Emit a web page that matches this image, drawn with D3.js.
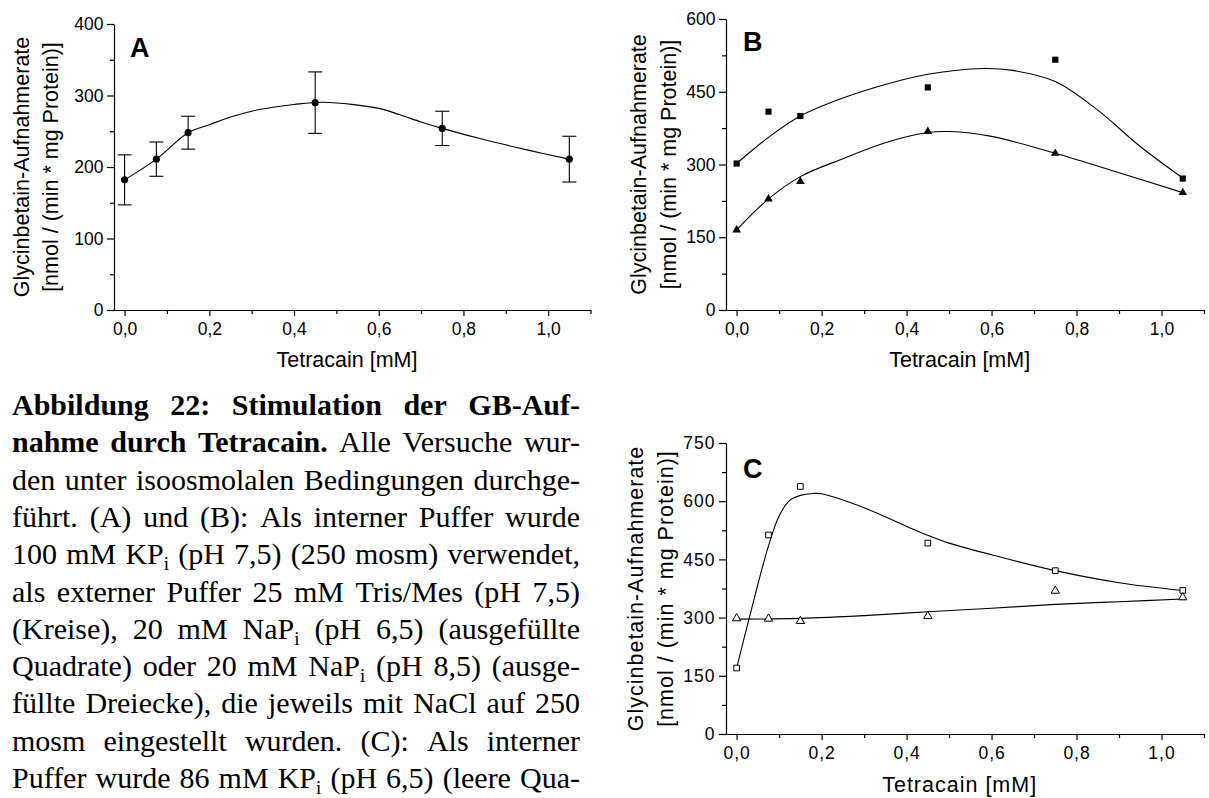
<!DOCTYPE html>
<html>
<head>
<meta charset="utf-8">
<script src="https://cdn.jsdelivr.net/npm/d3@7"></script>
<style>
  body { margin: 0; background: #fff; }
  svg { display: block; }
</style>
</head>
<body>
<svg id="fig" width="1209" height="798"></svg>
<script>
// Tetracain concentrations (mM) used in all experiments
const tetracain = [0, 0.075, 0.15, 0.45, 0.75, 1.05];

// (A) external buffer Tris/Mes pH 7,5: means and standard deviations
const uptakeA = [182, 211, 248, 290, 254, 211];
const errorA = [35, 24, 23, 43, 24, 32];
// fitted curve A
const fitA_x = [0, 0.075, 0.15, 0.2, 0.25, 0.3, 0.35, 0.4, 0.47, 0.6, 0.65, 0.7, 0.75, 0.85, 0.95, 1.05];
const fitA_y = [182, 211, 248, 259, 270, 278, 283.5, 287.5, 290.5, 282, 273, 263, 254, 238, 224, 211];

// (B) filled squares: NaPi pH 6,5 ; filled triangles: NaPi pH 8,5
const uptakeB_squares = [302, 409, 400, 459, 516, 271];
const uptakeB_triangles = [165, 229, 265, 368, 323, 242];
const fitB_sq_x = [0, 0.075, 0.15, 0.25, 0.35, 0.45, 0.58, 0.65, 0.75, 0.85, 0.95, 1.05];
const fitB_sq_y = [302, 356, 400, 437, 465, 486, 498, 494, 471, 412, 337, 272];
const fitB_tri_x = [0, 0.075, 0.15, 0.25, 0.35, 0.45, 0.5, 0.6, 0.75, 0.9, 1.05];
const fitB_tri_y = [165, 229, 275, 312, 345, 366, 368, 358, 323, 283, 242];

// (C) internal buffer KPi pH 6,5: open squares and open triangles
const uptakeC_squares = [170, 513, 638, 492, 421, 370];
const uptakeC_triangles = [298, 297, 291, 304, 369, 352];
const fitC_sq_x = [0, 0.03, 0.075, 0.1, 0.125, 0.15, 0.18, 0.2, 0.3, 0.4, 0.45, 0.5, 0.6, 0.75, 0.9, 1.05];
const fitC_sq_y = [170, 300, 485, 562, 602, 615, 620, 619, 583, 535, 512, 492, 462, 421, 390, 370];
const fitC_tri_x = [0, 0.15, 0.3, 0.45, 0.6, 0.75, 0.9, 1.05];
const fitC_tri_y = [296, 298, 305, 315, 324, 334, 341, 348];

// axis ticks
const xTicks = [0, 0.2, 0.4, 0.6, 0.8, 1.0];
const xTickLabels = ["0,0", "0,2", "0,4", "0,6", "0,8", "1,0"];
const xMinorTicks = [0.1, 0.3, 0.5, 0.7, 0.9, 1.1];
const yTicksA = [0, 100, 200, 300, 400];
const yMinorA = [50, 150, 250, 350];
const yTicksBC = [0, 150, 300, 450, 600];
const yMinorB = [75, 225, 375, 525];
const yTicksC = [0, 150, 300, 450, 600, 750];
const yMinorC = [75, 225, 375, 525, 675];

const xLabel = "Tetracain [mM]";
const yLabel1 = "Glycinbetain-Aufnahmerate";
const yLabel2 = "[nmol / (min * mg Protein)]";

const svg = d3.select("#fig");
const SANS = "'Liberation Sans', Arial, sans-serif";

function zip(xs, ys) { return xs.map((v, i) => [v, ys[i]]); }

function drawPanel(p) {
  const g = svg.append("g").attr("font-family", SANS);
  const x = d3.scaleLinear().domain([-0.025, 1.1]).range([p.left, p.right]);
  const y = d3.scaleLinear().domain([0, p.ymax]).range([p.bottom, p.top]);
  const ls = p.spacing || 0;

  // minor ticks
  const xm = g.append("g").attr("transform", `translate(0,${p.bottom})`)
    .call(d3.axisBottom(x).tickValues(xMinorTicks).tickFormat("").tickSize(4).tickSizeOuter(0));
  xm.select(".domain").remove();
  const ym = g.append("g").attr("transform", `translate(${p.left},0)`)
    .call(d3.axisLeft(y).tickValues(p.yMinor).tickFormat("").tickSize(4).tickSizeOuter(0));
  ym.select(".domain").remove();

  // major axes
  g.append("g").attr("transform", `translate(0,${p.bottom})`)
    .call(d3.axisBottom(x).tickValues(xTicks).tickFormat((d, i) => xTickLabels[i])
      .tickSize(6).tickPadding(7).tickSizeOuter(0));
  g.append("g").attr("transform", `translate(${p.left},0)`)
    .call(d3.axisLeft(y).tickValues(p.yTicks).tickFormat(d => String(d))
      .tickSize(7).tickPadding(3.5).tickSizeOuter(0));

  g.selectAll(".tick text").attr("font-size", 17.5).attr("font-family", SANS)
    .attr("fill", "#000").attr("letter-spacing", ls);
  g.selectAll(".domain, .tick line").attr("stroke", "#000").attr("stroke-width", 1.2);

  // axis titles
  g.append("text")
    .attr("x", x(0.525)).attr("y", p.xLabelY)
    .attr("text-anchor", "middle").attr("font-size", 21.5).attr("letter-spacing", ls)
    .text(xLabel);
  const cy = (p.top + p.bottom) / 2;
  [[yLabel1, p.yLabelX1], [yLabel2, p.yLabelX2]].forEach(([t, bx]) => {
    g.append("text")
      .attr("transform", `translate(${bx},${cy}) rotate(-90)`)
      .attr("text-anchor", "middle").attr("font-size", 21.5).attr("letter-spacing", ls)
      .text(t);
  });

  // panel letter
  g.append("text").attr("x", p.letterX).attr("y", p.letterY)
    .attr("font-size", 27).attr("font-weight", "bold").text(p.letter);

  const line = d3.line().x(d => x(d[0])).y(d => y(d[1])).curve(d3.curveCatmullRom.alpha(0.5));

  p.fits.forEach(f => {
    g.append("path").attr("d", line(zip(f[0], f[1])))
      .attr("fill", "none").attr("stroke", "#000").attr("stroke-width", 1.1);
  });

  if (p.errors) {
    const eb = g.append("g").attr("stroke", "#000").attr("stroke-width", 1.1);
    tetracain.forEach((c, i) => {
      const m = p.series[0].values[i], e = p.errors[i];
      eb.append("line").attr("x1", x(c)).attr("x2", x(c)).attr("y1", y(m - e)).attr("y2", y(m + e));
      [m - e, m + e].forEach(v => {
        eb.append("line").attr("x1", x(c) - 7).attr("x2", x(c) + 7).attr("y1", y(v)).attr("y2", y(v));
      });
    });
  }

  p.series.forEach(s => {
    const sym = d3.symbol().type(s.type).size(s.size);
    g.append("g").selectAll("path").data(zip(tetracain, s.values)).join("path")
      .attr("transform", d => `translate(${x(d[0])},${y(d[1])})`)
      .attr("d", sym)
      .attr("fill", s.open ? "#fff" : "#000")
      .attr("stroke", "#000").attr("stroke-width", s.open ? 1 : 0);
  });
}

drawPanel({
  left: 114, right: 590.5, top: 24, bottom: 310, ymax: 400,
  yTicks: yTicksA, yMinor: yMinorA,
  xLabelY: 367, yLabelX1: 29, yLabelX2: 58,
  letter: "A", letterX: 130, letterY: 56.5,
  fits: [[fitA_x, fitA_y]],
  errors: errorA,
  series: [{ values: uptakeA, type: d3.symbolCircle, size: 40 }]
});

drawPanel({
  left: 726, right: 1204, top: 19, bottom: 310, ymax: 600,
  yTicks: yTicksBC, yMinor: yMinorB,
  xLabelY: 367, yLabelX1: 646, yLabelX2: 676,
  letter: "B", letterX: 743, letterY: 50.5,
  fits: [[fitB_sq_x, fitB_sq_y], [fitB_tri_x, fitB_tri_y]],
  series: [
    { values: uptakeB_squares, type: d3.symbolSquare, size: 38 },
    { values: uptakeB_triangles, type: d3.symbolTriangle, size: 32 }
  ]
});

drawPanel({
  left: 726, right: 1204, top: 443, bottom: 734, ymax: 750,
  yTicks: yTicksC, yMinor: yMinorC, spacing: 1,
  xLabelY: 792, yLabelX1: 642.5, yLabelX2: 672.5,
  letter: "C", letterX: 743, letterY: 478,
  fits: [[fitC_sq_x, fitC_sq_y], [fitC_tri_x, fitC_tri_y]],
  series: [
    { values: uptakeC_squares, type: d3.symbolSquare, size: 32, open: true },
    { values: uptakeC_triangles, type: d3.symbolTriangle, size: 30, open: true }
  ]
});

// Figure caption, justified block set in a serif face
const captionLines = [
  [["Abbildung 22: Stimulation der GB-Auf-", true]],
  [["nahme durch Tetracain.", true], ["Alle Versuche wur-", false]],
  [["den unter isoosmolalen Bedingungen durchge-", false]],
  [["führt. (A) und (B): Als interner Puffer wurde", false]],
  [["100 mM KP_i (pH 7,5) (250 mosm) verwendet,", false]],
  [["als externer Puffer 25 mM Tris/Mes (pH 7,5)", false]],
  [["(Kreise), 20 mM NaP_i (pH 6,5) (ausgefüllte", false]],
  [["Quadrate) oder 20 mM NaP_i (pH 8,5) (ausge-", false]],
  [["füllte Dreiecke), die jeweils mit NaCl auf 250", false]],
  [["mosm eingestellt wurden. (C): Als interner", false]],
  [["Puffer wurde 86 mM KP_i (pH 6,5) (leere Qua-", false]]
];

const cap = svg.append("g")
  .attr("font-family", "'Liberation Serif', 'Times New Roman', serif")
  .attr("font-size", 30).attr("fill", "#000");
const capLeft = 12, capRight = 580, capTop = 415, capStep = 37.3;

captionLines.forEach((segs, li) => {
  const words = [];
  segs.forEach(([t, b]) => t.split(" ").forEach(w => words.push({ w, b })));
  const by = capTop + li * capStep;
  const nodes = words.map(({ w, b }) => {
    const t = cap.append("text").attr("y", by).attr("font-weight", b ? "bold" : "normal");
    const parts = w.split("_i");
    t.append("tspan").text(parts[0]);
    if (parts.length > 1) {
      t.append("tspan").attr("font-size", 19).attr("dy", 6).text("i");
      if (parts[1]) t.append("tspan").attr("dy", -6).text(parts[1]);
    }
    return t;
  });
  const widths = nodes.map(n => n.node().getComputedTextLength());
  const total = d3.sum(widths);
  const gap = (capRight - capLeft - total) / (nodes.length - 1);
  let cx = capLeft;
  nodes.forEach((n, i) => { n.attr("x", cx); cx += widths[i] + gap; });
});
</script>
</body>
</html>
